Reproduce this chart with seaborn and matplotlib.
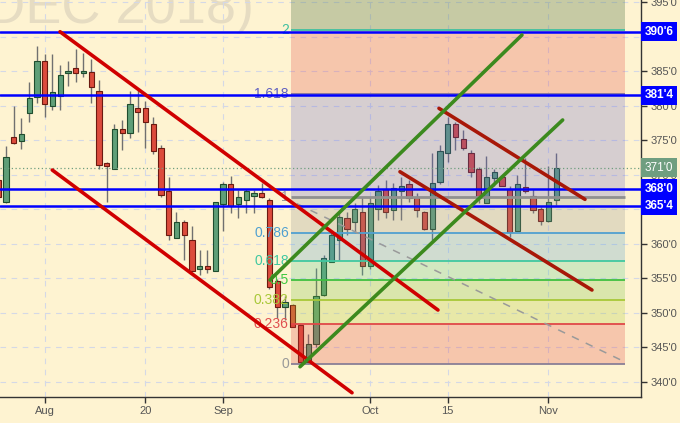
import pandas as pd
import matplotlib
matplotlib.use('Agg')
import matplotlib.pyplot as plt
import seaborn as sns
from matplotlib.transforms import blended_transform_factory

# pregoes de 24/07 a 02/11/2018 (sem o feriado de 03/09)
dias = pd.bdate_range('2018-07-24', '2018-11-02')
dias = dias[dias != pd.Timestamp('2018-09-03')]

aberturas = [369.2, 366.0, 375.5, 374.9, 378.9, 381.3, 386.5, 379.9, 381.4, 384.7,
             385.4, 384.7, 384.9, 382.1, 371.7, 370.8, 376.6, 376.1, 379.7, 379.7,
             377.4, 373.9, 367.6, 360.9, 363.2, 360.5, 356.3, 356.7, 356.1, 365.7,
             368.6, 365.7, 366.3, 366.9, 367.4, 366.3, 354.6, 350.9, 351.1, 348.2,
             342.9, 345.5, 352.6, 357.4, 360.5, 363.7, 363.1, 364.6, 356.8, 365.0,
             367.9, 364.9, 367.6, 368.6, 366.7, 364.6, 362.2, 369.0, 373.1, 377.4,
             375.2, 373.2, 370.8, 365.9, 369.5, 369.6, 368.0, 361.8, 368.2, 366.9,
             365.0, 363.3, 366.3]
maximas = [369.6, 374.2, 380.0, 378.2, 383.5, 388.7, 387.5, 387.5, 385.9, 386.5,
           388.2, 387.7, 386.7, 383.7, 371.9, 377.3, 377.9, 382.1, 382.3, 380.7,
           378.3, 374.3, 369.7, 364.6, 363.4, 362.6, 359.1, 359.1, 366.0, 368.9,
           369.8, 367.8, 368.0, 367.8, 368.8, 366.6, 354.9, 352.4, 351.3, 348.3,
           346.9, 356.5, 358.3, 362.0, 364.4, 364.6, 365.9, 366.8, 366.8, 368.5,
           369.2, 368.8, 369.7, 369.2, 367.3, 364.8, 373.2, 374.3, 378.4, 377.7,
           376.5, 373.6, 371.1, 372.7, 370.8, 369.8, 368.3, 370.0, 372.4, 368.0,
           365.3, 371.2, 373.2]
minimas = [366.4, 365.9, 374.5, 373.7, 377.7, 380.4, 378.4, 379.4, 379.4, 382.8,
           383.5, 384.1, 380.4, 370.9, 366.1, 370.8, 373.6, 375.3, 376.2, 373.9,
           373.0, 366.7, 360.6, 360.9, 357.6, 356.1, 355.5, 355.7, 356.1, 361.8,
           364.5, 363.7, 364.4, 364.5, 366.6, 353.5, 349.2, 348.9, 347.9, 342.6,
           342.6, 345.1, 352.4, 357.4, 357.6, 361.3, 361.5, 355.5, 356.4, 363.4,
           363.7, 363.4, 363.4, 366.1, 363.9, 362.0, 360.5, 368.7, 371.9, 373.6,
           373.6, 369.7, 365.9, 365.9, 368.3, 368.3, 361.0, 361.8, 367.3, 364.4,
           362.7, 363.2, 365.6]
fechamentos = [366.8, 372.5, 374.6, 375.9, 381.1, 386.5, 380.2, 382.0, 384.5, 385.1,
               384.8, 385.1, 382.7, 371.4, 371.2, 376.6, 376.1, 380.3, 379.1, 377.6,
               373.5, 367.0, 361.2, 363.2, 361.2, 356.1, 356.7, 356.3, 366.0, 368.6,
               365.4, 366.7, 367.7, 367.4, 366.7, 353.7, 350.9, 351.6, 347.9, 342.8,
               345.5, 352.4, 357.9, 361.2, 363.9, 362.2, 365.1, 356.7, 365.9, 367.7,
               364.6, 368.1, 368.3, 366.6, 364.9, 362.2, 368.8, 373.5, 377.4, 375.4,
               373.8, 370.4, 366.6, 369.7, 370.4, 368.3, 361.7, 368.6, 367.6, 364.9,
               363.3, 366.1, 371.0]

# rotulos do eixo x
datas_ticks = ['2018-08-01', '2018-08-20', '2018-09-04', '2018-10-01', '2018-10-15', '2018-11-01']
rotulos_ticks = ['Aug', '20', 'Sep', 'Oct', '15', 'Nov']

# fibonacci
fib_niveis = [0, 0.236, 0.382, 0.5, 0.618, 0.786, 1, 1.618, 2]
fib_minimo = 342.6
fib_maximo = 366.8
fib_x_ini = 37.8
fib_x_fim = 80.9

# niveis horizontais marcados
niveis_azuis = [390.75, 381.5, 368.0, 365.5]
ultimo_preco = 371.0

# linhas de tendencia (posicao do pregao, preco)
linhas_nome = ['canal1_sup', 'canal1_inf', 'canal2_sup', 'canal2_inf', 'alta_inf', 'alta_sup']
linhas_x0 = [7.97, 6.97, 56.87, 51.84, 38.94, 35.06]
linhas_p0 = [390.72, 370.68, 379.62, 370.43, 342.17, 354.74]
linhas_x1 = [56.74, 45.65, 75.71, 76.61, 72.83, 67.58]
linhas_p1 = [350.39, 338.4, 366.43, 353.29, 377.93, 390.25]
pontilhada_x = [36.74, 80.87]
pontilhada_p = [366.77, 342.86]

# cores
fundo = '#fef3d1'
verde_vela = '#5f9f78'
verde_borda = '#1f4d2e'
vermelho_vela = '#dc4b3c'
vermelho_borda = '#6b1a10'
cinza_texto = '#555555'
azul_nivel = '#0000ff'
cores_linhas = {'canal1_sup': '#d00000', 'canal1_inf': '#d00000',
                'canal2_sup': '#a81808', 'canal2_inf': '#a81808',
                'alta_inf': '#3c8a1e', 'alta_sup': '#3c8a1e'}
fib_cor_linha = ['#8a7f96', '#e04848', '#a8c838', '#40c040', '#40c8a0', '#50a0d0', '#909090', '#8070a0', '#40c0a0']
fib_cor_texto = ['#999999', '#e05050', '#a8c838', '#40c840', '#40c8a0', '#50a0d0', '#999999', '#6060c0', '#40c0a0']
fib_cor_faixa = ['#e04040', '#a8c830', '#70c040', '#50c890', '#4a9ad0', '#909090', '#6060d0', '#e04040']

sns.set_theme(style='white')
plt.rcParams['font.family'] = ['Liberation Sans', 'DejaVu Sans']

df = pd.DataFrame({'data': dias, 'open': aberturas, 'high': maximas,
                   'low': minimas, 'close': fechamentos})
df['pos'] = range(len(df))
df['alta'] = df['close'] >= df['open']

fig = plt.figure(figsize=(6.8, 4.23), dpi=100, facecolor=fundo)
ax = fig.add_axes([0, 0.0622, 0.9422, 0.9378], facecolor=fundo)

ax.set_xlim(0.226, 82.9)
ax.set_ylim(337.83, 395.32)

# marca d'agua
ax.text(-0.022, 0.942, 'DEC 2018)', transform=ax.transAxes, fontsize=39,
        color='#e6dcc2', ha='left', va='baseline', zorder=0.5)

# velas
ax.vlines(df['pos'], df['low'], df['high'], color='#707070', lw=1, zorder=2)
corpo_base = df[['open', 'close']].min(axis=1)
corpo_alt = (df['close'] - df['open']).abs().clip(lower=0.35)
ax.bar(df['pos'], corpo_alt, bottom=corpo_base, width=0.68,
       color=[verde_vela if a else vermelho_vela for a in df['alta']],
       edgecolor=[verde_borda if a else vermelho_borda for a in df['alta']],
       linewidth=0.8, zorder=2.5)

# faixas e niveis de fibonacci
faixa = fib_maximo - fib_minimo
fib_precos = [fib_minimo + n * faixa for n in fib_niveis]
for i in range(1, len(fib_precos)):
    ax.fill_between([fib_x_ini, fib_x_fim], fib_precos[i - 1], fib_precos[i],
                    color=fib_cor_faixa[i - 1], alpha=0.25, lw=0, zorder=3)
ax.fill_between([fib_x_ini, fib_x_fim], fib_precos[-1], 395.32,
                color='#608050', alpha=0.35, lw=0, zorder=3)
for n, p, cl, ct in zip(fib_niveis, fib_precos, fib_cor_linha, fib_cor_texto):
    ax.hlines(p, fib_x_ini, fib_x_fim, color=cl, lw=2 if n == 1 else 1.3, zorder=3.5)
    ax.text(fib_x_ini - 0.3, p, f'{n:g}', color=ct, fontsize=10,
            ha='right', va='center', zorder=3.5)

ax.plot(pontilhada_x, pontilhada_p, color='#9a9a9a', lw=1.1, ls=(0, (5, 5)), zorder=3.6)

# ultimo preco
ax.axhline(ultimo_preco, color='#6f9e80', lw=0.9, ls=(0, (1, 2)), zorder=3.7)

# niveis azuis
for p in niveis_azuis:
    ax.axhline(p, color=azul_nivel, lw=1.8, zorder=4)

# linhas de tendencia
df_linhas = pd.DataFrame({
    'linha': linhas_nome + linhas_nome,
    'x': linhas_x0 + linhas_x1,
    'preco': linhas_p0 + linhas_p1,
})
sns.lineplot(data=df_linhas, x='x', y='preco', hue='linha', palette=cores_linhas,
             estimator=None, sort=False, linewidth=2.6, legend=False, ax=ax, zorder=6)


def oitavos(v):
    inteiro = int(v)
    return f"{inteiro}'{int(round((v - inteiro) * 8))}"


# eixos
ax.yaxis.tick_right()
ax.set_yticks(range(340, 396, 5))
ax.set_yticklabels([oitavos(v) for v in range(340, 396, 5)])
pos_ticks = [df.index[df['data'] == pd.Timestamp(d)][0] for d in datas_ticks]
ax.set_xticks(pos_ticks)
ax.set_xticklabels(rotulos_ticks)
ax.tick_params(axis='both', colors='#333333', labelcolor=cinza_texto, labelsize=8,
               length=4, width=1, direction='out')
ax.tick_params(axis='y', right=True, left=False, pad=3)
ax.tick_params(axis='x', bottom=True, pad=3)
ax.set_xlabel('')
ax.set_ylabel('')
ax.grid(True, color='#d4d8e6', lw=0.8, ls=(0, (5, 5)))
ax.set_axisbelow(True)
for lado in ['left', 'top']:
    ax.spines[lado].set_visible(False)
for lado in ['right', 'bottom']:
    ax.spines[lado].set_color('#333333')
    ax.spines[lado].set_linewidth(1)

# caixas de preco no eixo
trans = blended_transform_factory(ax.transAxes, ax.transData)
for p in niveis_azuis:
    ax.annotate(oitavos(p), xy=(1, p), xycoords=trans, xytext=(3, 0),
                textcoords='offset points', ha='left', va='center', color='white',
                fontsize=8.5, fontweight='bold', annotation_clip=False, zorder=7,
                bbox=dict(boxstyle='square,pad=0.3', fc=azul_nivel, ec='none'))
ax.annotate(oitavos(ultimo_preco), xy=(1, ultimo_preco), xycoords=trans, xytext=(3, 0),
            textcoords='offset points', ha='left', va='center', color='white',
            fontsize=8.5, annotation_clip=False, zorder=7,
            bbox=dict(boxstyle='square,pad=0.3', fc='#6f9e80', ec='none'))

fig.savefig('out.png', dpi=100, facecolor=fundo)
